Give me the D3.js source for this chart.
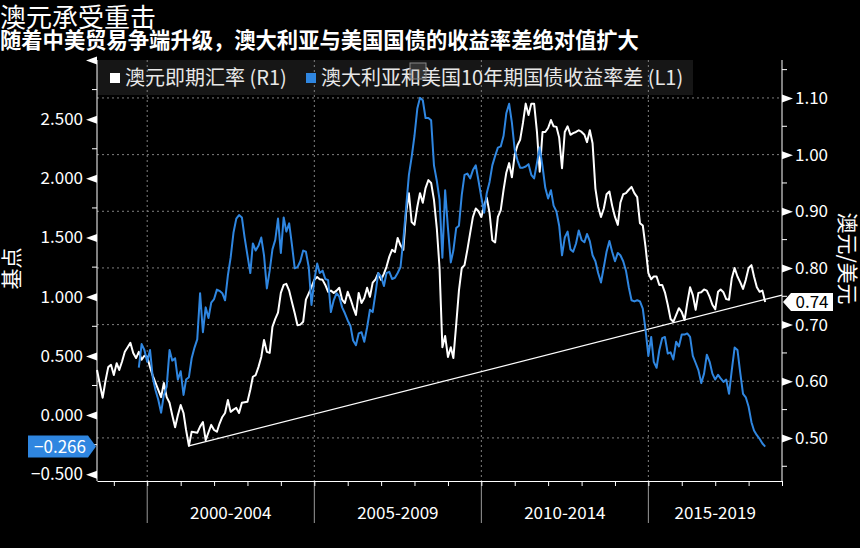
<!DOCTYPE html>
<html>
<head>
<meta charset="utf-8">
<script src="https://cdn.jsdelivr.net/npm/d3@7"></script>
<style>
  body { margin: 0; background: #000; }
  svg { display: block; font-family: "Noto Sans CJK SC", "Noto Sans", sans-serif; }
</style>
</head>
<body>
<div id="chart"></div>
<script>
const title = "澳元承受重击";
const subtitle = "随着中美贸易争端升级，澳大利亚与美国国债的收益率差绝对值扩大";
const legendLabels = ["澳元即期汇率 (R1)", "澳大利亚和美国10年期国债收益率差 (L1)"];
const leftAxisTitle = "基点";
const rightAxisTitle = "澳元/美元";

const periodLabels = ["2000-2004", "2005-2009", "2010-2014", "2015-2019"];
const periodStarts = [2000, 2005, 2010, 2015];

const leftTicks = [-0.5, 0, 0.5, 1, 1.5, 2, 2.5, 3];
const rightTicks = [0.5, 0.6, 0.7, 0.8, 0.9, 1.0, 1.1];

// AUD/USD spot, monthly from 1998-07 (right axis)
const audStart = "1998-07";
const audUsd = [
  0.62, 0.595, 0.571, 0.60, 0.625, 0.629, 0.611, 0.632, 0.62, 0.635,
  0.652, 0.66, 0.668, 0.65, 0.641, 0.652, 0.638, 0.645, 0.643, 0.625,
  0.61, 0.597, 0.585, 0.572, 0.597, 0.572, 0.562, 0.54, 0.519, 0.54,
  0.558, 0.544, 0.514, 0.486, 0.511, 0.51, 0.509, 0.52, 0.528, 0.496,
  0.51, 0.523, 0.514, 0.511, 0.525, 0.537, 0.544, 0.567, 0.546, 0.55,
  0.553, 0.544, 0.562, 0.563, 0.564, 0.585, 0.608, 0.611, 0.625, 0.643,
  0.673, 0.652, 0.65, 0.696, 0.71, 0.721, 0.756, 0.77, 0.772, 0.76,
  0.74, 0.72, 0.699, 0.70, 0.705, 0.744, 0.755, 0.766, 0.779, 0.784,
  0.78, 0.779, 0.77, 0.758, 0.76, 0.756, 0.76, 0.765, 0.744, 0.738,
  0.758, 0.745, 0.731, 0.717, 0.756, 0.738, 0.747, 0.765, 0.749, 0.774,
  0.78, 0.791, 0.779, 0.79, 0.802, 0.82, 0.832, 0.828, 0.853, 0.84,
  0.832, 0.897, 0.932, 0.881, 0.876, 0.908, 0.932, 0.915, 0.941, 0.955,
  0.95, 0.92, 0.87, 0.80, 0.66, 0.68, 0.643, 0.66, 0.641, 0.70,
  0.76, 0.80, 0.805, 0.832, 0.862, 0.89, 0.905, 0.90, 0.89, 0.91,
  0.924, 0.897, 0.849, 0.845, 0.89, 0.902, 0.938, 0.968, 0.985, 0.96,
  1.0, 1.017, 1.026, 1.056, 1.09, 1.07, 1.09, 1.09, 1.04, 0.97,
  1.04, 1.04, 1.047, 1.061, 1.05, 1.049, 1.03, 0.976, 1.04, 1.05,
  1.035, 1.038, 1.04, 1.043, 1.04, 1.035, 1.022, 1.043, 1.02, 0.94,
  0.908, 0.89, 0.905, 0.93, 0.935, 0.91, 0.89, 0.876, 0.915, 0.93,
  0.932, 0.938, 0.943, 0.932, 0.925, 0.879, 0.875, 0.837, 0.791, 0.78,
  0.785, 0.785, 0.77, 0.77, 0.757, 0.735, 0.71, 0.705, 0.717, 0.729,
  0.722, 0.708, 0.738, 0.766, 0.752, 0.726, 0.756, 0.757, 0.762, 0.76,
  0.749, 0.735, 0.727, 0.758, 0.762, 0.757, 0.745, 0.744, 0.782, 0.80,
  0.785, 0.775, 0.763, 0.779, 0.80, 0.805, 0.785, 0.766, 0.758, 0.76,
  0.74
];

// AU-US 10y yield spread, monthly from 1999-10 (left axis)
const spreadStart = "1999-10";
const spread = [
  0.40, 0.60, 0.55, 0.45, 0.55,
  0.32, 0.21, 0.13, 0.02, 0.17, 0.24, 0.55, 0.46, 0.48, 0.30,
  0.37, 0.17, 0.30, 0.32, 0.48, 0.57, 0.64, 1.03, 0.70, 0.91,
  0.82, 0.95, 0.98, 1.06, 1.05, 1.03, 0.97, 1.18, 1.33, 1.54,
  1.66, 1.69, 1.67, 1.50, 1.35, 1.20, 1.45, 1.39, 1.43, 1.50,
  1.35, 1.07, 1.22, 1.40, 1.48, 1.66, 1.37, 1.67, 1.55, 1.62,
  1.44, 1.24, 1.25, 1.30, 1.39, 1.38, 1.25, 0.93, 1.14, 1.28,
  1.20, 1.22, 1.15, 1.14, 0.87, 0.97, 1.03, 1.00, 0.91, 0.86,
  0.80, 0.75, 0.63, 0.59, 0.69, 0.70, 0.62, 0.74, 0.89, 0.87,
  1.03, 1.20, 1.17, 1.09, 1.20, 1.21, 1.15, 1.16, 1.20, 1.25,
  1.48, 1.75, 2.03, 2.18, 2.36, 2.59, 2.68, 2.66, 2.51, 2.51,
  2.49, 2.11, 1.98, 1.82, 1.33, 1.90, 1.58, 1.29, 1.39, 1.58,
  1.60, 1.86, 2.03, 2.04, 2.00, 2.07, 2.11, 1.98, 1.84, 1.71,
  1.875, 1.97, 2.11, 2.19, 2.26, 2.27, 2.36, 2.55, 2.63, 2.47,
  2.24, 2.15, 2.09, 2.09, 2.10, 2.12, 2.03, 2.00, 2.13, 2.26,
  2.10, 1.92, 1.83, 1.90, 1.77, 1.72, 1.60, 1.35, 1.50, 1.55,
  1.40, 1.38, 1.45, 1.56, 1.48, 1.46, 1.53, 1.47, 1.35, 1.30,
  1.20, 1.12, 1.25, 1.38, 1.47, 1.38, 1.30, 1.37, 1.35, 1.30,
  1.22, 1.08, 0.97, 0.96, 0.97, 0.96, 0.90, 0.72, 0.50, 0.66,
  0.45, 0.40, 0.55, 0.65, 0.66, 0.52, 0.53, 0.47, 0.62, 0.58,
  0.68, 0.68, 0.69, 0.66, 0.50, 0.44, 0.38, 0.27, 0.35, 0.51,
  0.45, 0.35, 0.30, 0.34, 0.31, 0.28, 0.30, 0.18, 0.38, 0.57,
  0.55, 0.36, 0.18, 0.15, 0.07, -0.06, -0.13, -0.17, -0.20, -0.24,
  -0.266
];

// support trend line drawn on the AUD series (right axis)
const trendDates = ["2001-04", "2019-01"];
const trendValues = [0.486, 0.752];

const width = 860, height = 548;
const margin = { top: 60, right: 78, bottom: 67, left: 97 };
const plotRight = width - margin.right;
const plotBottom = height - margin.bottom;
const white = "#ffffff", blue = "#2f86e0";

const parseMonth = d3.timeParse("%Y-%m");
const audData = audUsd.map((v, i) => ({ date: d3.timeMonth.offset(parseMonth(audStart), i), value: v }));
const spreadData = spread.map((v, i) => ({ date: d3.timeMonth.offset(parseMonth(spreadStart), i), value: v }));
const trendData = trendDates.map((d, i) => ({ date: parseMonth(d), value: trendValues[i] }));

const x = d3.scaleTime()
  .domain([parseMonth("1998-07"), parseMonth("2019-01")])
  .range([margin.left, plotRight]);
const yL = d3.scaleLinear().domain([-0.557, 3.0]).range([plotBottom, margin.top]);
const yR = d3.scaleLinear().domain([0.424, 1.167]).range([plotBottom, margin.top]);

const svg = d3.select("#chart").append("svg")
  .attr("width", width)
  .attr("height", height)
  .style("background", "#000");

// titles
svg.append("text").attr("x", 0).attr("y", 27)
  .attr("fill", white).attr("font-size", 26).text(title);
svg.append("text").attr("x", 0).attr("y", 48)
  .attr("fill", white).attr("font-size", 21.3).attr("font-weight", "bold").text(subtitle);

// legend band
svg.append("rect")
  .attr("x", margin.left).attr("y", margin.top)
  .attr("width", 596).attr("height", 35)
  .attr("fill", "#161616");

// grid
const grid = svg.append("g");
grid.selectAll(".hgrid").data(rightTicks).enter().append("line")
  .attr("x1", margin.left).attr("x2", plotRight)
  .attr("y1", d => yR(d)).attr("y2", d => yR(d))
  .attr("stroke", "#808080").attr("stroke-dasharray", "2,3");
grid.selectAll(".vgrid").data(periodStarts).enter().append("line")
  .attr("x1", d => x(new Date(d, 0, 1))).attr("x2", d => x(new Date(d, 0, 1)))
  .attr("y1", margin.top).attr("y2", plotBottom)
  .attr("stroke", "#808080").attr("stroke-dasharray", "2,3");

// period separators and labels under the axis
svg.selectAll(".sep").data(periodStarts).enter().append("line")
  .attr("x1", d => x(new Date(d, 0, 1))).attr("x2", d => x(new Date(d, 0, 1)))
  .attr("y1", plotBottom).attr("y2", plotBottom + 42)
  .attr("stroke", "#9a9a9a");
svg.selectAll(".period").data(periodLabels).enter().append("text")
  .attr("x", (d, i) => {
    const a = x(new Date(periodStarts[i], 0, 1));
    const b = i < periodStarts.length - 1 ? x(new Date(periodStarts[i + 1], 0, 1)) : plotRight;
    return (a + b) / 2;
  })
  .attr("y", plotBottom + 38)
  .attr("text-anchor", "middle")
  .attr("fill", white).attr("font-size", 17)
  .text(d => d);

// x axis with yearly ticks
const xAxis = svg.append("g")
  .attr("transform", `translate(0,${plotBottom})`)
  .call(d3.axisBottom(x).ticks(d3.timeYear.every(1)).tickSize(5).tickFormat("").tickSizeOuter(0));
xAxis.select(".domain").attr("stroke", white);
xAxis.selectAll(".tick line").attr("stroke", white);

// left axis
const leftAxis = svg.append("g")
  .attr("transform", `translate(${margin.left},0)`)
  .call(d3.axisLeft(yL).tickValues(leftTicks).tickSize(0).tickPadding(14)
    .tickFormat(d => d === 3 ? "" : d3.format(".3f")(d)));
leftAxis.select(".domain").attr("stroke", white).attr("d", `M0,${margin.top}V${plotBottom}`);
leftAxis.selectAll(".tick text").attr("fill", white).attr("font-size", 17)
  .attr("font-family", "\"Noto Sans CJK SC\", sans-serif");
leftAxis.selectAll(".tick").append("path").attr("d", "M0,-4L0,4L-11,0Z").attr("fill", white);
leftAxis.selectAll(".minor").data(d3.range(-0.25, 3, 0.5)).enter().append("line")
  .attr("x1", -5).attr("x2", 0).attr("y1", d => yL(d)).attr("y2", d => yL(d))
  .attr("stroke", white);

// right axis
const rightAxis = svg.append("g")
  .attr("transform", `translate(${plotRight},0)`)
  .call(d3.axisRight(yR).tickValues(rightTicks).tickSize(0).tickPadding(13)
    .tickFormat(d3.format(".2f")));
rightAxis.select(".domain").attr("stroke", white).attr("d", `M0,${margin.top}V${plotBottom}`);
rightAxis.selectAll(".tick text").attr("fill", white).attr("font-size", 17)
  .attr("font-family", "\"Noto Sans CJK SC\", sans-serif");
rightAxis.selectAll(".tick").append("path").attr("d", "M0,-4L0,4L11,0Z").attr("fill", white);
rightAxis.selectAll(".minor").data(d3.range(0.45, 1.2, 0.1)).enter().append("line")
  .attr("x1", 0).attr("x2", 5).attr("y1", d => yR(d)).attr("y2", d => yR(d))
  .attr("stroke", white);

// axis titles
svg.append("text")
  .attr("transform", `translate(19,${(margin.top + plotBottom) / 2 - 2}) rotate(-90)`)
  .attr("text-anchor", "middle").attr("fill", white).attr("font-size", 21)
  .text(leftAxisTitle);
svg.append("text")
  .attr("transform", `translate(840,${(margin.top + plotBottom) / 2 - 12}) rotate(90)`)
  .attr("text-anchor", "middle").attr("fill", white).attr("font-size", 21)
  .text(rightAxisTitle);

// series
const lineR = d3.line().x(d => x(d.date)).y(d => yR(d.value));
const lineL = d3.line().x(d => x(d.date)).y(d => yL(d.value));

svg.append("path").datum(trendData)
  .attr("d", lineR).attr("fill", "none")
  .attr("stroke", white).attr("stroke-width", 1.2);

svg.append("path").datum(audData)
  .attr("d", lineR).attr("fill", "none")
  .attr("stroke", white).attr("stroke-width", 2).attr("stroke-linejoin", "round");

svg.append("path").datum(spreadData)
  .attr("d", lineL).attr("fill", "none")
  .attr("stroke", blue).attr("stroke-width", 2).attr("stroke-linejoin", "round");

// legend items
const legend = svg.append("g");
const legendX = [110, 306];
const legendColors = [white, blue];
legendLabels.forEach((label, i) => {
  legend.append("rect")
    .attr("x", legendX[i]).attr("y", 73)
    .attr("width", 10).attr("height", 10)
    .attr("fill", legendColors[i]);
  legend.append("text")
    .attr("x", legendX[i] + 15).attr("y", 85)
    .attr("fill", "#e8e8e8").attr("font-size", 20)
    .text(label);
});
// small overlay square seen on the legend
legend.append("rect")
  .attr("x", 410).attr("y", 63).attr("width", 16).attr("height", 16)
  .attr("fill", "rgba(140,140,140,0.25)").attr("stroke", "#888");

// last value tags
const lastSpread = spreadData[spreadData.length - 1].value;
const ls = yL(lastSpread);
svg.append("path")
  .attr("d", `M28,${ls - 11}H88L96,${ls}L88,${ls + 11}H28Z`)
  .attr("fill", blue);
svg.append("text")
  .attr("x", 60).attr("y", ls).attr("dy", "0.35em")
  .attr("text-anchor", "middle").attr("fill", white).attr("font-size", 17)
  .text(d3.format(".3f")(lastSpread));

const lastAud = audData[audData.length - 1].value;
const la = yR(lastAud);
svg.append("path")
  .attr("d", `M${plotRight + 1},${la}L${plotRight + 9},${la - 9}H833V${la + 9}H${plotRight + 9}Z`)
  .attr("fill", white);
svg.append("text")
  .attr("x", 812).attr("y", la).attr("dy", "0.35em")
  .attr("text-anchor", "middle").attr("fill", "#000").attr("font-size", 17)
  .text(d3.format(".2f")(lastAud));
</script>
</body>
</html>
